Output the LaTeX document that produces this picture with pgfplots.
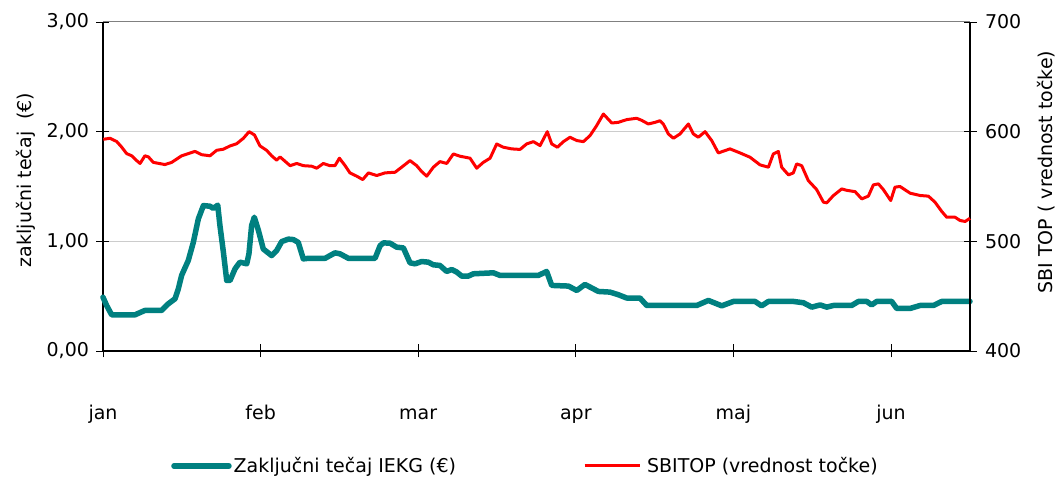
\documentclass[border=0pt]{standalone}
\usepackage{pgfplots}
\pgfplotsset{compat=1.18}
\usepackage{pgfplotstable}
\usepackage{fontspec}
\setmainfont{DejaVu Sans}
\definecolor{iekg}{RGB}{0,128,128}
\definecolor{sbi}{RGB}{255,0,0}

\pgfplotstableread{
m v
0.000 0.49
0.023 0.415
0.055 0.33
0.118 0.33
0.203 0.33
0.266 0.37
0.372 0.37
0.414 0.43
0.457 0.476
0.478 0.567
0.499 0.69
0.541 0.825
0.573 0.99
0.605 1.205
0.637 1.326
0.679 1.32
0.700 1.30
0.728 1.33
0.742 1.144
0.764 0.90
0.785 0.643
0.806 0.643
0.838 0.75
0.869 0.81
0.912 0.795
0.926 0.886
0.943 1.144
0.960 1.22
0.986 1.10
1.017 0.93
1.070 0.87
1.102 0.916
1.134 0.998
1.176 1.02
1.208 1.016
1.239 0.99
1.271 0.84
1.303 0.845
1.409 0.845
1.472 0.895
1.504 0.886
1.557 0.845
1.726 0.845
1.758 0.96
1.779 0.986
1.821 0.983
1.863 0.947
1.906 0.94
1.948 0.804
1.980 0.795
2.022 0.816
2.064 0.81
2.096 0.786
2.138 0.78
2.181 0.725
2.212 0.743
2.244 0.72
2.276 0.683
2.318 0.683
2.350 0.704
2.477 0.713
2.519 0.689
2.762 0.689
2.815 0.725
2.847 0.598
2.953 0.592
3.006 0.552
3.058 0.607
3.143 0.543
3.217 0.537
3.270 0.513
3.323 0.483
3.407 0.483
3.450 0.415
3.767 0.415
3.841 0.461
3.926 0.412
4.000 0.452
4.137 0.452
4.179 0.412
4.222 0.452
4.380 0.452
4.444 0.44
4.497 0.40
4.550 0.42
4.592 0.40
4.634 0.415
4.750 0.415
4.793 0.452
4.846 0.452
4.877 0.42
4.909 0.452
5.004 0.452
5.036 0.388
5.121 0.388
5.184 0.415
5.269 0.415
5.322 0.452
5.501 0.452
}\iekgdata

\pgfplotstableread{
m v
0.002 593
0.044 594
0.087 591
0.118 586
0.150 580
0.182 578
0.214 573.6
0.235 571
0.266 578
0.288 577
0.319 572
0.393 570
0.436 572
0.499 578
0.584 582
0.626 579
0.679 578
0.721 583
0.764 584
0.806 587
0.848 589
0.891 594
0.927 600
0.961 597
0.996 587
1.038 583
1.070 578
1.102 574
1.123 577
1.155 573
1.187 569
1.229 571
1.271 569
1.324 568.5
1.356 566.7
1.398 571
1.440 569
1.472 569
1.500 575.8
1.536 569
1.567 562.4
1.610 559.4
1.648 556.3
1.684 562.4
1.737 560
1.789 562.4
1.853 563
1.895 567.6
1.948 573.6
1.990 569
2.022 563.6
2.054 559.4
2.096 567.6
2.138 572.7
2.181 571
2.223 579.7
2.265 577.6
2.329 575.8
2.371 566.7
2.413 572
2.456 575.8
2.498 588.8
2.540 585.8
2.593 584.3
2.646 583.8
2.688 588.8
2.731 590.9
2.773 587.3
2.819 600
2.847 588.8
2.883 585.8
2.921 590.9
2.963 594.9
3.006 591.9
3.048 590.9
3.090 596.4
3.132 605.5
3.175 616.1
3.228 607.9
3.270 608.5
3.323 611
3.386 612.2
3.418 610.3
3.460 607
3.503 608.5
3.534 610
3.555 607
3.587 597.9
3.619 594
3.661 597.9
3.714 607
3.746 597.9
3.777 594.9
3.820 600
3.862 591.9
3.904 580.6
3.978 584.3
4.042 580.6
4.105 576.7
4.169 569.7
4.222 567.6
4.253 579.7
4.285 582
4.306 567.6
4.349 560.6
4.380 562.4
4.401 570.6
4.433 569
4.475 555.4
4.528 547.2
4.571 535.7
4.592 535.1
4.634 541.7
4.687 547.8
4.719 546.5
4.772 545.3
4.814 538.7
4.856 541.2
4.888 551.5
4.920 552.4
4.951 547.2
4.998 537.2
5.025 549.4
5.057 550
5.121 543.9
5.184 541.8
5.237 541.2
5.279 535.7
5.322 527.2
5.353 522
5.406 522
5.438 519
5.470 518.1
5.501 521
}\sbidata

\pgfplotsset{
  base/.style={
    at={(0pt,0pt)}, anchor=south west,
    scale only axis, width=867pt, height=329pt,
    xmin=0, xmax=5.501,
    tick align=center, major tick length=13pt,
    tick style={black, line width=0.8pt},
    axis line style={black, line width=1.2pt},
    /pgf/number format/assume math mode=true,
    ticklabel style={font=\fontsize{19}{23}\selectfont},
    label style={font=\fontsize{19}{23}\selectfont},
    clip=false,
  }
}

\begin{document}
\begin{tikzpicture}
\path[use as bounding box] (-103pt,-130pt) rectangle (954pt,351pt);
\begin{axis}[base,
  axis y line*=left, axis x line*=bottom,
  ymin=0, ymax=3, ytick={0,1,2,3},
  ymajorgrids, grid style={black!20, line width=1pt},
  xtick={0,1,2,3,4,5}, xticklabels={jan,feb,mar,apr,maj,jun},
  xticklabel style={anchor=base, yshift=-62pt},
  yticklabel style={xshift=-4pt, /pgf/number format/fixed, /pgf/number format/fixed zerofill,
    /pgf/number format/precision=2, /pgf/number format/use comma},
  ylabel={zaključni tečaj\ \ (€)},
  ylabel style={at={(axis description cs:-0.0888,0.52)}, anchor=center},
]
\draw[black!50, line width=1pt] (rel axis cs:0,1) -- (rel axis cs:1,1);
\addplot[iekg, line width=5.5pt, line join=round, line cap=round] table[x=m, y=v] {\iekgdata};
\end{axis}
\begin{axis}[base,
  axis y line*=right, axis x line=none,
  ymin=400, ymax=700, ytick={400,500,600,700},
  yticklabel style={xshift=5pt},
  ylabel={SBI TOP ( vrednost točke)},
  ylabel style={at={(axis description cs:1.0877,0.544)}, anchor=center},
  legend style={at={(axis description cs:0.075,-0.3495)}, anchor=west,
    draw=none, fill=none, legend columns=2,
    font=\fontsize{19}{23}\selectfont,
    /tikz/every even column/.append style={column sep=125pt}},
  legend image code/.code={\draw[#1] (0pt,0pt) -- (55pt,0pt);},
]
\addlegendimage{iekg, line width=5.5pt, line cap=round}
\addlegendentry{Zaključni tečaj IEKG (€)}
\addplot[sbi, line width=3pt, line join=round] table[x=m, y=v] {\sbidata};
\addlegendentry{\hspace{4pt}SBITOP (vrednost točke)}
\end{axis}
\end{tikzpicture}
\end{document}
